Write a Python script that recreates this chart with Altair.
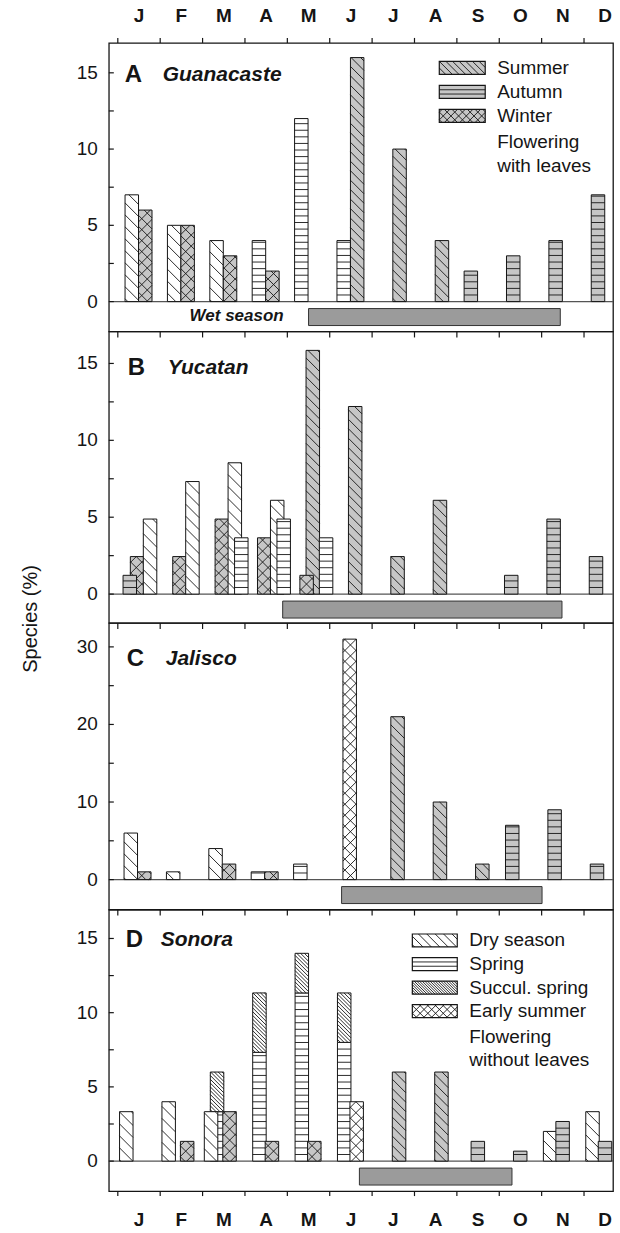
import math
import altair as alt
import pandas as pd

# ---------------- data (% of species) ----------------
months = ["J", "F", "M", "A", "M", "J", "J", "A", "S", "O", "N", "D"]

# Panel A - Guanacaste
A_dry    = [7, 5, 4, 0, 0, 0, 0, 0, 0, 0, 0, 0]
A_spring = [0, 0, 0, 4, 12, 4, 0, 0, 0, 0, 0, 0]
A_summer = [0, 0, 0, 0, 0, 16, 10, 4, 0, 0, 0, 0]
A_autumn = [0, 0, 0, 0, 0, 0, 0, 0, 2, 3, 4, 7]
A_winter = [6, 5, 3, 2, 0, 0, 0, 0, 0, 0, 0, 0]

# Panel B - Yucatan
B_summer = [0, 0, 0, 0, 15.85, 12.2, 2.44, 6.1, 0, 0, 0, 0]
B_winter = [2.44, 2.44, 4.88, 3.66, 1.22, 0, 0, 0, 0, 0, 0, 0]
B_autumn = [1.22, 0, 0, 0, 0, 0, 0, 0, 0, 1.22, 4.88, 2.44]
B_dry    = [4.88, 7.32, 8.54, 6.1, 0, 0, 0, 0, 0, 0, 0, 0]
B_spring = [0, 0, 3.66, 4.88, 3.66, 0, 0, 0, 0, 0, 0, 0]

# Panel C - Jalisco
C_dry    = [6, 1, 4, 0, 0, 0, 0, 0, 0, 0, 0, 0]
C_winter = [1, 0, 2, 1, 0, 0, 0, 0, 0, 0, 0, 0]
C_spring = [0, 0, 0, 1, 2, 0, 0, 0, 0, 0, 0, 0]
C_early  = [0, 0, 0, 0, 0, 31, 0, 0, 0, 0, 0, 0]
C_summer = [0, 0, 0, 0, 0, 0, 21, 10, 2, 0, 0, 0]
C_autumn = [0, 0, 0, 0, 0, 0, 0, 0, 0, 7, 9, 2]

# Panel D - Sonora
D_spring = [0, 0, 3.33, 7.33, 11.33, 8, 0, 0, 0, 0, 0, 0]
D_succul = [0, 0, 2.67, 4, 2.67, 3.33, 0, 0, 0, 0, 0, 0]
D_dry    = [3.33, 4, 3.33, 0, 0, 0, 0, 0, 0, 0, 2, 3.33]
D_autumn = [0, 0, 0, 0, 0, 0, 0, 0, 1.33, 0.67, 2.67, 1.33]
D_winter = [0, 1.33, 3.33, 1.33, 1.33, 0, 0, 0, 0, 0, 0, 0]
D_early  = [0, 0, 0, 0, 0, 4, 0, 0, 0, 0, 0, 0]
D_summer = [0, 0, 0, 0, 0, 0, 6, 6, 0, 0, 0, 0]

# wet season (start, end) in months from 1 January
wet_season = {"A": (4.5, 10.44), "B": (3.89, 10.48), "C": (5.28, 10.01), "D": (5.70, 9.30)}

legend_A_labels = [("summer", "Summer"), ("autumn", "Autumn"), ("winter", "Winter")]
legend_A_note = ["Flowering", "with leaves"]
legend_D_labels = [("dry", "Dry season"), ("spring", "Spring"),
                   ("succul", "Succul. spring"), ("early", "Early summer")]
legend_D_note = ["Flowering", "without leaves"]

# ---------------- styling / layout ----------------
FONT = "Liberation Sans"
GRAY = "#c6c6c6"
INK = "#151515"
W = 505
XMIN, XMAX = -0.212, 11.684
MONTH_PX = W / (XMAX - XMIN)
BAR_PX = 13.5

STYLE = {
    "dry":    ("#ffffff", "diag", 12.0),
    "spring": ("#ffffff", "horiz", 6.6),
    "succul": ("#ffffff", "diag", 3.8),
    "early":  ("#ffffff", "cross", 11.0),
    "summer": (GRAY, "diag", 9.5),
    "autumn": (GRAY, "horiz", 6.6),
    "winter": (GRAY, "cross", 11.0),
}


def hatch(L, R, T, B, kind, sp, m=1.0):
    segs = []
    if kind == "horiz":
        y = B - sp
        while y > T + 0.8:
            segs.append((L, y, R, y))
            y -= sp
    if kind in ("diag", "cross"):
        cmin, cmax = T - m * R, B - m * L
        k = math.ceil(cmin / sp)
        while k * sp <= cmax:
            c = k * sp
            xa = max(L, (T - c) / m)
            xb = min(R, (B - c) / m)
            if xb - xa > 0.4:
                segs.append((xa, m * xa + c, xb, m * xb + c))
            k += 1
    if kind == "cross":
        cmin, cmax = T + m * L, B + m * R
        k = math.ceil(cmin / sp)
        while k * sp <= cmax:
            c = k * sp
            xa = max(L, (c - B) / m)
            xb = min(R, (c - T) / m)
            if xb - xa > 0.4:
                segs.append((xa, c - m * xa, xb, c - m * xb))
            k += 1
    return segs


PANELS = [
    dict(key="A", name="Guanacaste", H=289, ydom=(-1.96, 16.96),
         ticks=[0, 2.5, 5, 7.5, 10, 12.5, 15], labels=[0, 5, 10, 15],
         series={"dry": A_dry, "spring": A_spring, "summer": A_summer,
                 "autumn": A_autumn, "winter": A_winter},
         order=["dry", "spring", "autumn", "summer", "winter"],
         slots={"dry": 14, "spring": 14, "autumn": 14, "winter": 27.5, "summer": 27.5},
         letter_xy=(16, 32), name_xy=(54, 32), xaxis="top"),
    dict(key="B", name="Yucatan", H=292, ydom=(-1.88, 17.08),
         ticks=[0, 2.5, 5, 7.5, 10, 12.5, 15], labels=[0, 5, 10, 15],
         series={"summer": B_summer, "winter": B_winter, "autumn": B_autumn,
                 "dry": B_dry, "spring": B_spring},
         order=["summer", "winter", "autumn", "dry", "spring"],
         slots={"autumn": 12, "winter": 19.3, "summer": 25.5, "dry": 32.3, "spring": 38.8},
         letter_xy=(19, 37), name_xy=(59, 37), xaxis=None),
    dict(key="C", name="Jalisco", H=287, ydom=(-3.86, 33.08),
         ticks=[0, 5, 10, 15, 20, 25, 30], labels=[0, 10, 20, 30],
         series={"dry": C_dry, "winter": C_winter, "spring": C_spring,
                 "early": C_early, "summer": C_summer, "autumn": C_autumn},
         order=["dry", "spring", "autumn", "early", "summer", "winter"],
         slots={"dry": 13, "spring": 13, "autumn": 13, "early": 20, "winter": 26.5, "summer": 25.5},
         letter_xy=(18, 36), name_xy=(57, 36), xaxis=None),
    dict(key="D", name="Sonora", H=282, ydom=(-2.02, 16.95),
         ticks=[0, 2.5, 5, 7.5, 10, 12.5, 15], labels=[0, 5, 10, 15],
         series={"spring": D_spring, "succul": D_succul, "dry": D_dry, "autumn": D_autumn,
                 "winter": D_winter, "early": D_early, "summer": D_summer},
         order=["spring", "succul", "dry", "autumn", "winter", "early", "summer"],
         slots={"dry": 8.5, "spring": 14.5, "succul": 14.5, "autumn": 21,
                "winter": 27, "early": 27, "summer": 27},
         letter_xy=(17, 31), name_xy=(52, 31), xaxis="bottom"),
]


def text_layer(s, x, y, size=19, weight="normal", style="normal", align="left", angle=0):
    kw = dict(font=FONT, fontSize=size, fontWeight=weight, fontStyle=style,
              align=align, baseline="middle", color=INK)
    if angle:
        kw["angle"] = angle
    return alt.Chart(pd.DataFrame({"t": [s]})).mark_text(**kw).encode(
        x=alt.value(x), y=alt.value(y), text="t:N")


def build_panel(p):
    H = p["H"]
    y0, y1 = p["ydom"]
    px = lambda u: (u - XMIN) / (XMAX - XMIN) * W
    py = lambda v: H * (y1 - v) / (y1 - y0)
    ux = lambda x: XMIN + x / W * (XMAX - XMIN)
    vy = lambda y: y1 - y / H * (y1 - y0)
    xs = alt.Scale(domain=[XMIN, XMAX], nice=False, zero=False)
    ys = alt.Scale(domain=[y0, y1], nice=False, zero=False)

    def X(f):
        return alt.X(f, type="quantitative", scale=xs, axis=None, title=None)

    def Y(f):
        return alt.Y(f, type="quantitative", scale=ys, axis=None, title=None)

    layers = []

    # baseline at 0
    base_df = pd.DataFrame({"x": [XMIN], "x2": [XMAX], "y": [0]})
    layers.append(alt.Chart(base_df).mark_rule(color="#555", strokeWidth=1.3).encode(
        x=X("x"), x2="x2:Q", y=Y("y")))

    # wet season bar
    ws, we = wet_season[p["key"]]
    z = py(0)
    layers.append(alt.Chart(pd.DataFrame({"s": [ws], "e": [we]})).mark_rect(
        fill="#9b9b9b", stroke="#333", strokeWidth=1).encode(
        x=X("s"), x2="e:Q", y=alt.value(z + 7), y2=alt.value(z + 24)))

    # bars with hatching, drawn in per-panel order
    half = BAR_PX / 2 / MONTH_PX
    for cat in p["order"]:
        vals = p["series"][cat]
        base = p["series"]["spring"] if cat == "succul" else [0] * 12
        fill, kind, sp = STYLE[cat]
        rows, hrows = [], []
        for i, v in enumerate(vals):
            if v <= 0:
                continue
            c = i + p["slots"][cat] / MONTH_PX
            xl, xr = c - half, c + half
            lo, hi = base[i], base[i] + v
            rows.append(dict(month=months[i], cat=cat, xl=xl, xr=xr, lo=lo, hi=hi))
            for a, b, cc, d in hatch(px(xl), px(xr), py(hi), py(lo), kind, sp):
                hrows.append(dict(x1=ux(a), y1=vy(b), x2=ux(cc), y2=vy(d)))
        if not rows:
            continue
        layers.append(alt.Chart(pd.DataFrame(rows)).mark_rect(
            fill=fill, stroke=INK, strokeWidth=1).encode(
            x=X("xl"), x2="xr:Q", y=Y("lo"), y2="hi:Q"))
        if hrows:
            layers.append(alt.Chart(pd.DataFrame(hrows)).mark_rule(
                color=INK, strokeWidth=0.9).encode(
                x=X("x1"), x2="x2:Q", y=Y("y1"), y2="y2:Q"))

    # month ticks
    mdf = pd.DataFrame({"m": list(range(12)), "c": [i + 0.5 for i in range(12)],
                        "lab": months})
    if p["xaxis"] == "top":
        ty0, ty1 = -5, 0
    else:
        ty0, ty1 = 0, 6
    layers.append(alt.Chart(mdf).mark_rule(color=INK, strokeWidth=1.2).encode(
        x=X("m"), y=alt.value(ty0), y2=alt.value(ty1)))
    if p["xaxis"] == "top":
        layers.append(alt.Chart(mdf).mark_text(
            font=FONT, fontSize=19, fontWeight="bold", color=INK,
            align="center", baseline="middle").encode(
            x=X("c"), y=alt.value(-27), text="lab:N"))
    if p["xaxis"] == "bottom":
        layers.append(alt.Chart(mdf).mark_rule(color=INK, strokeWidth=1.2).encode(
            x=X("m"), y=alt.value(H), y2=alt.value(H + 5)))
        layers.append(alt.Chart(mdf).mark_text(
            font=FONT, fontSize=19, fontWeight="bold", color=INK,
            align="center", baseline="middle").encode(
            x=X("c"), y=alt.value(H + 29), text="lab:N"))

    # y ticks (inward) and labels
    layers.append(alt.Chart(pd.DataFrame({"v": p["ticks"]})).mark_rule(
        color=INK, strokeWidth=1.2).encode(
        y=Y("v"), x=alt.value(0), x2=alt.value(5)))
    layers.append(alt.Chart(pd.DataFrame({"v": p["labels"],
                                          "s": [str(v) for v in p["labels"]]})).mark_text(
        font=FONT, fontSize=19, color=INK, align="right", baseline="middle").encode(
        y=Y("v"), x=alt.value(-11), text="s:N"))

    # panel label
    lx, ly = p["letter_xy"]
    layers.append(text_layer(p["key"], lx, ly, size=24, weight="bold"))
    nx, ny = p["name_xy"]
    layers.append(text_layer(p["name"], nx, ny, size=21, weight="bold", style="italic"))

    # legends / notes
    def legend(entries, note, sx, sw, ty, dy, tx):
        lrows, lh = [], []
        for j, (cat, lab) in enumerate(entries):
            yc = ty + j * dy
            fill, kind, sp = STYLE[cat]
            if kind == "horiz":
                sp = 4.3
            L, R, T, B = sx, sx + sw, yc - 6.5, yc + 6.5
            lrows.append(dict(cat=cat, xl=ux(L), xr=ux(R), lo=vy(B), hi=vy(T), fill=fill))
            for a, b, cc, d in hatch(L, R, T, B, kind, sp * (0.7 if kind != "horiz" else 1)):
                lh.append(dict(x1=ux(a), y1=vy(b), x2=ux(cc), y2=vy(d)))
            layers.append(text_layer(lab, tx, yc, size=19))
        layers.append(alt.Chart(pd.DataFrame(lrows)).mark_rect(
            stroke=INK, strokeWidth=1.2).encode(
            x=X("xl"), x2="xr:Q", y=Y("lo"), y2="hi:Q",
            fill=alt.Fill("fill:N", scale=None)))
        layers.append(alt.Chart(pd.DataFrame(lh)).mark_rule(
            color=INK, strokeWidth=0.9).encode(
            x=X("x1"), x2="x2:Q", y=Y("y1"), y2="y2:Q"))
        for k, s in enumerate(note):
            layers.append(text_layer(s, tx, ty + (len(entries) + k) * dy + 2, size=19))

    if p["key"] == "A":
        legend(legend_A_labels, legend_A_note, 331, 46, 25, 24, 389)
        layers.append(text_layer("Wet season", 128, 274, size=17, weight="bold", style="italic",
                                 align="center"))
    if p["key"] == "B":
        layers.append(text_layer("Species (%)", -78, 288, size=20, align="center", angle=270))
    if p["key"] == "D":
        legend(legend_D_labels, legend_D_note, 304, 45, 31, 23.6, 361)

    return alt.layer(*layers).properties(width=W, height=H)


panels = [build_panel(p) for p in PANELS]

chart = alt.vconcat(*panels, spacing=0, bounds="flush").properties(
    padding={"left": 20, "top": 5, "right": 5, "bottom": 5},
    background="white",
).configure_view(stroke=INK, strokeWidth=1.3)

chart.save("out.html", embed_options={"renderer": "svg", "actions": False})
